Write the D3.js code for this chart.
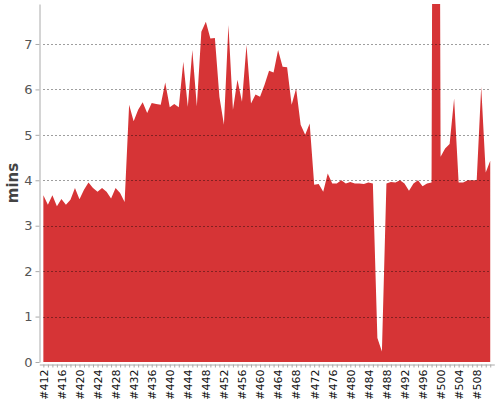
<!DOCTYPE html>
<html>
<head>
<meta charset="utf-8">
<script src="https://cdn.jsdelivr.net/npm/d3@7"></script>
<style>
  body { margin: 0; background: #fff; }
  svg { display: block; }
</style>
</head>
<body>
<script>
var w = 500;
var h = 400;

// build numbers (categories) and build durations in minutes
var builds = d3.range(412, 512);
var durations = [
	3.67, 3.46, 3.67, 3.43, 3.59, 3.46, 3.57, 3.83, 3.58, 3.79,
	3.95, 3.83, 3.75, 3.83, 3.75, 3.60, 3.83, 3.72, 3.52, 5.66,
	5.30, 5.55, 5.72, 5.48, 5.70, 5.68, 5.66, 6.15, 5.61, 5.68,
	5.61, 6.61, 5.62, 6.87, 5.63, 7.27, 7.49, 7.12, 7.13, 5.84,
	5.22, 7.42, 5.55, 6.21, 5.73, 6.98, 5.69, 5.89, 5.84, 6.10,
	6.41, 6.37, 6.87, 6.50, 6.49, 5.66, 6.02, 5.22, 5.00, 5.25,
	3.90, 3.92, 3.75, 4.15, 3.93, 3.93, 4.00, 3.93, 3.96, 3.93,
	3.93, 3.92, 3.95, 3.93, 0.53, 0.23, 3.93, 3.96, 3.95, 4.00,
	3.93, 3.77, 3.93, 4.00, 3.87, 3.93, 3.95, 38.0, 4.52, 4.70,
	4.80, 5.80, 3.95, 3.95, 4.00, 4.00, 4.00, 6.06, 4.17, 4.43
];
var yTicks = [0, 1, 2, 3, 4, 5, 6, 7];
var yMax = 7.88;

var plotLeft = 43, plotRight = 490.5, plotTop = 4, plotBottom = 362;

var xScale = d3.scalePoint()
				.domain(builds)
				.range([39.3, 494.3])
				.padding(0.9);

var yScale = d3.scaleLinear()
				.domain([0, yMax])
				.range([plotBottom, plotTop]);

var svg = d3.select("body")
			.append("svg")
			.attr("width", w)
			.attr("height", h)
			.style("font-family", "'DejaVu Sans', sans-serif");

svg.append("clipPath")
	.attr("id", "plotclip")
	.append("rect")
	.attr("x", plotLeft - 1)
	.attr("y", plotTop)
	.attr("width", plotRight - plotLeft + 2)
	.attr("height", plotBottom - plotTop);

var area = d3.area()
	.x(function(d, i) { return xScale(builds[i]); })
	.y0(yScale(0))
	.y1(function(d) { return yScale(d); });

svg.append("path")
	.datum(durations)
	.attr("clip-path", "url(#plotclip)")
	.attr("fill", "#d63436")
	.attr("d", area);

// dashed grid on top of the area
svg.selectAll(".grid")
	.data(yTicks.filter(function(d) { return d > 0; }))
	.enter()
	.append("line")
	.attr("class", "grid")
	.attr("x1", plotLeft)
	.attr("x2", plotRight)
	.attr("y1", function(d) { return Math.round(yScale(d)) + 0.5; })
	.attr("y2", function(d) { return Math.round(yScale(d)) + 0.5; })
	.attr("stroke", "rgba(0,0,0,0.38)")
	.attr("stroke-dasharray", "2,2");

// y axis
var yAxis = svg.append("g")
	.attr("transform", "translate(39.5,0)")
	.call(d3.axisLeft(yScale).tickValues(yTicks).tickSize(4).tickSizeOuter(0).tickPadding(3));
yAxis.select(".domain").attr("stroke", "#aaa");
yAxis.selectAll(".tick line").attr("stroke", "#aaa");
yAxis.selectAll(".tick text")
	.attr("fill", "#555")
	.attr("font-size", "13px")
	.attr("font-family", "'DejaVu Sans', sans-serif");

// x axis: a tick for every build, a label every 4th
var xAxis = svg.append("g")
	.attr("transform", "translate(0,364.5)")
	.call(d3.axisBottom(xScale)
		.tickSize(3)
		.tickSizeOuter(0)
		.tickFormat(function(d) { return (d - 412) % 4 === 0 ? "#" + d : ""; }));
xAxis.select(".domain").attr("stroke", "#aaa");
xAxis.selectAll(".tick line").attr("stroke", "#aaa");
xAxis.selectAll(".tick text")
	.attr("fill", "#111")
	.attr("font-size", "11px")
	.attr("font-family", "'DejaVu Sans', sans-serif")
	.attr("text-anchor", "end")
	.attr("transform", "rotate(-90)")
	.attr("x", -5)
	.attr("y", 0)
	.attr("dy", "0.35em");

svg.append("text")
	.attr("transform", "translate(18," + (plotTop + plotBottom) / 2 + ") rotate(-90)")
	.attr("text-anchor", "middle")
	.attr("font-size", "15px")
	.attr("font-weight", "bold")
	.attr("fill", "#444")
	.text("mins");
</script>
</body>
</html>
